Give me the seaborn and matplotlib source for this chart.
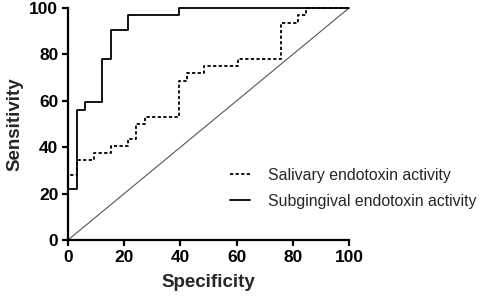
import matplotlib
matplotlib.use("Agg")
import matplotlib.pyplot as plt
import pandas as pd
import seaborn as sns

# ROC curve vertices (100 - specificity %, sensitivity %), n = 33 controls / 32 cases
salivary_x = [0, 0, 3.03, 3.03, 9.09, 9.09, 15.15, 15.15, 21.21, 21.21, 24.24, 24.24,
              27.27, 27.27, 39.39, 39.39, 42.42, 42.42, 48.48, 48.48, 60.61, 60.61,
              75.76, 75.76, 81.82, 81.82, 84.85, 84.85, 100]
salivary_y = [0, 28.13, 28.13, 34.38, 34.38, 37.5, 37.5, 40.63, 40.63, 43.75, 43.75, 50,
              50, 53.13, 53.13, 68.75, 68.75, 71.88, 71.88, 75, 75, 78.13,
              78.13, 93.75, 93.75, 96.88, 96.88, 100, 100]
subging_x = [0, 0, 3.03, 3.03, 6.06, 6.06, 12.12, 12.12, 15.15, 15.15, 21.21, 21.21,
             39.39, 39.39, 100]
subging_y = [0, 21.88, 21.88, 56.25, 56.25, 59.38, 59.38, 78.13, 78.13, 90.63, 90.63,
             96.88, 96.88, 100, 100]
ref_x = [0, 100]
ref_y = [0, 100]

sal = pd.DataFrame({"x": salivary_x, "y": salivary_y})
sub = pd.DataFrame({"x": subging_x, "y": subging_y})
ref = pd.DataFrame({"x": ref_x, "y": ref_y})

sns.set_style("ticks")
plt.rcParams["font.family"] = ["Liberation Sans", "DejaVu Sans"]

fig = plt.figure(figsize=(4.86, 3.05), dpi=100)
ax = fig.add_axes([68 / 486, 65 / 305, 281 / 486, 232 / 305])

sns.lineplot(data=ref, x="x", y="y", ax=ax, color="#555555", lw=0.8,
             sort=False, estimator=None)
sns.lineplot(data=sal, x="x", y="y", ax=ax, color="black", lw=1.3,
             linestyle=(0, (1.8, 1.3)), sort=False, estimator=None,
             label="Salivary endotoxin activity", clip_on=False)
sns.lineplot(data=sub, x="x", y="y", ax=ax, color="black", lw=1.3,
             sort=False, estimator=None,
             label="Subgingival endotoxin activity", clip_on=False)

ax.set_xlim(0, 100)
ax.set_ylim(0, 100)
ax.set_xticks([0, 20, 40, 60, 80, 100])
ax.set_yticks([0, 20, 40, 60, 80, 100])
ax.set_xlabel("Specificity", fontsize=13.5, fontweight="bold", labelpad=7)
ax.set_ylabel("Sensitivity", fontsize=13.5, fontweight="bold", labelpad=4)
ax.tick_params(axis="both", labelsize=12.5, width=1.6, length=4, color="black",
               labelcolor="black", pad=3)
for lab in ax.get_xticklabels() + ax.get_yticklabels():
    lab.set_fontweight("bold")
for s in ["left", "bottom"]:
    ax.spines[s].set_linewidth(1.6)
    ax.spines[s].set_color("black")
sns.despine(ax=ax)

ax.legend(loc="center left", bbox_to_anchor=(230 / 486, 0.382),
          bbox_transform=fig.transFigure, frameon=False, fontsize=11.4,
          borderpad=0, borderaxespad=0, handlelength=1.25, handletextpad=1.15,
          labelspacing=0.7)

fig.savefig("out.png", dpi=100)
